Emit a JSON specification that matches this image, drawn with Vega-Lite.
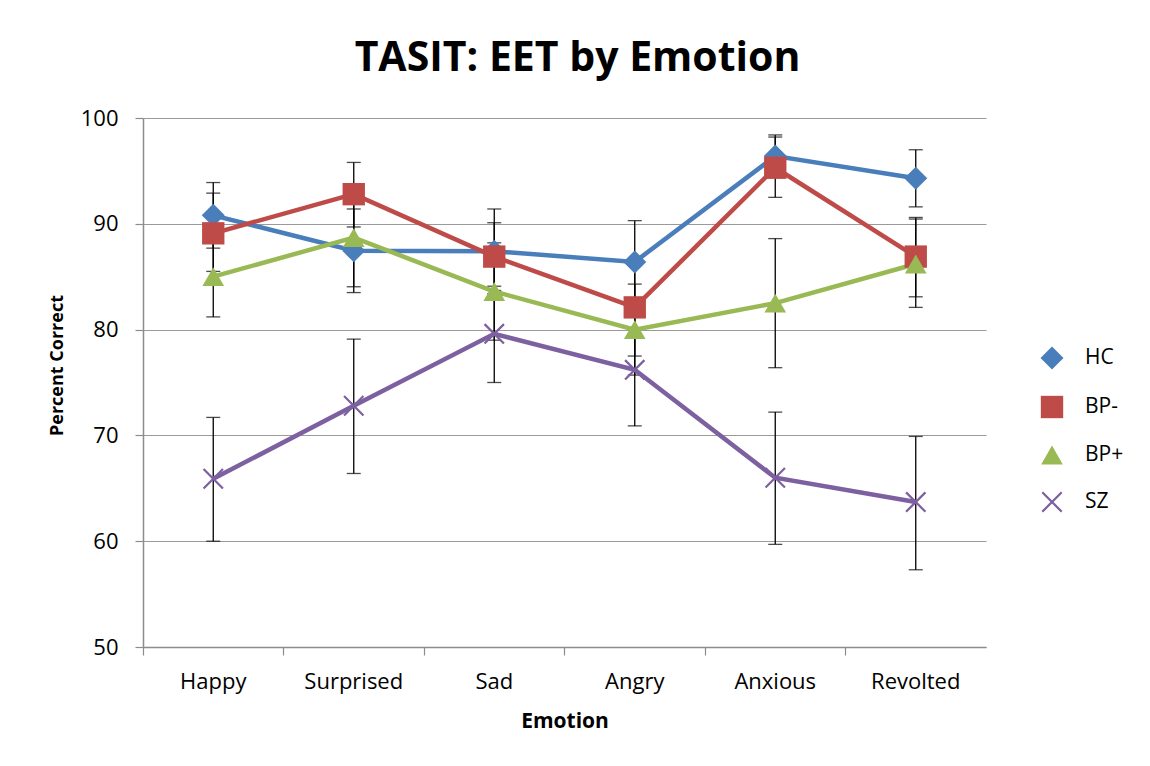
{
  "$schema": "https://vega.github.io/schema/vega-lite/v6.json",
  "width": 843,
  "height": 529,
  "autosize": {"type": "none"},
  "padding": {"left": 143, "top": 118, "right": 164, "bottom": 119},
  "background": "white",
  "title": {
    "text": "TASIT: EET by Emotion",
    "font": "Open Sans",
    "fontSize": 41,
    "fontWeight": "bold",
    "color": "black",
    "anchor": "middle",
    "frame": "group",
    "baseline": "alphabetic",
    "offset": -5,
    "dx": 13
  },
  "config": {
    "view": {"stroke": null},
    "font": "Open Sans",
    "axis": {
      "labelFont": "Open Sans",
      "titleFont": "Open Sans",
      "labelColor": "black",
      "titleColor": "black",
      "domainColor": "#8c8c8c",
      "tickColor": "#8c8c8c",
      "gridColor": "#9a9a9a",
      "domainWidth": 1.5,
      "tickWidth": 1.2,
      "gridWidth": 1.2
    }
  },
  "data": {
    "values": [
      {"emotion": "Happy", "group": "HC", "value": 90.8, "lo": 87.7, "hi": 93.9},
      {"emotion": "Surprised", "group": "HC", "value": 87.45, "lo": 83.5, "hi": 91.4},
      {"emotion": "Sad", "group": "HC", "value": 87.4, "lo": 83.4, "hi": 91.4},
      {"emotion": "Angry", "group": "HC", "value": 86.4, "lo": 82.5, "hi": 90.3},
      {"emotion": "Anxious", "group": "HC", "value": 96.4, "lo": 94.4, "hi": 98.4},
      {"emotion": "Revolted", "group": "HC", "value": 94.3, "lo": 91.6, "hi": 97.0},
      {"emotion": "Happy", "group": "BP-", "value": 89.1, "lo": 85.5, "hi": 92.9},
      {"emotion": "Surprised", "group": "BP-", "value": 92.8, "lo": 89.7, "hi": 95.8},
      {"emotion": "Sad", "group": "BP-", "value": 86.9, "lo": 83.7, "hi": 90.1},
      {"emotion": "Angry", "group": "BP-", "value": 82.1, "lo": 77.5, "hi": 86.7},
      {"emotion": "Anxious", "group": "BP-", "value": 95.3, "lo": 92.5, "hi": 98.2},
      {"emotion": "Revolted", "group": "BP-", "value": 86.9, "lo": 83.1, "hi": 90.6},
      {"emotion": "Happy", "group": "BP+", "value": 85.0, "lo": 81.2, "hi": 88.8},
      {"emotion": "Surprised", "group": "BP+", "value": 88.7, "lo": 84.05, "hi": 93.35},
      {"emotion": "Sad", "group": "BP+", "value": 83.6, "lo": 79.0, "hi": 88.2},
      {"emotion": "Angry", "group": "BP+", "value": 80.0, "lo": 75.7, "hi": 84.3},
      {"emotion": "Anxious", "group": "BP+", "value": 82.5, "lo": 76.4, "hi": 88.6},
      {"emotion": "Revolted", "group": "BP+", "value": 86.2, "lo": 82.1, "hi": 90.45},
      {"emotion": "Happy", "group": "SZ", "value": 65.9, "lo": 60.0, "hi": 71.7},
      {"emotion": "Surprised", "group": "SZ", "value": 72.8, "lo": 66.4, "hi": 79.1},
      {"emotion": "Sad", "group": "SZ", "value": 79.6, "lo": 75.0, "hi": 84.1},
      {"emotion": "Angry", "group": "SZ", "value": 76.2, "lo": 70.9, "hi": 81.5},
      {"emotion": "Anxious", "group": "SZ", "value": 66.0, "lo": 59.7, "hi": 72.2},
      {"emotion": "Revolted", "group": "SZ", "value": 63.7, "lo": 57.3, "hi": 69.9}
    ]
  },
  "encoding": {
    "x": {
      "field": "emotion",
      "type": "nominal",
      "sort": ["Happy", "Surprised", "Sad", "Angry", "Anxious", "Revolted"],
      "scale": {"paddingInner": 0, "paddingOuter": 0},
      "axis": {
        "title": "Emotion",
        "labelAngle": 0,
        "labelFontSize": 22,
        "titleFontSize": 21,
        "titleFontWeight": "bold",
        "tickSize": 8,
        "bandPosition": 0,
        "labelPadding": 16,
        "titlePadding": 18,
        "grid": false
      }
    },
    "color": {
      "field": "group",
      "type": "nominal",
      "scale": {"domain": ["HC", "BP-", "BP+", "SZ"], "range": ["#4a7ebb", "#be4b48", "#98b954", "#7d60a0"]},
      "legend": {
        "title": null,
        "orient": "none",
        "legendX": 897,
        "legendY": 228,
        "padding": 0,
        "symbolStrokeWidth": 0,
        "symbolOpacity": 1,
        "labelFont": "Open Sans",
        "labelFontSize": 21,
        "labelColor": "black",
        "labelOffset": 21,
        "rowPadding": 25.5
      }
    }
  },
  "layer": [
    {
      "mark": {"type": "rule", "color": "black", "strokeWidth": 1.3},
      "encoding": {
        "y": {"field": "lo", "type": "quantitative"},
        "y2": {"field": "hi"},
        "color": {"value": "black"}
      }
    },
    {
      "mark": {"type": "tick", "color": "black", "size": 14, "thickness": 1.3, "orient": "horizontal"},
      "encoding": {"y": {"field": "lo", "type": "quantitative"}, "color": {"value": "black"}}
    },
    {
      "mark": {"type": "tick", "color": "black", "size": 14, "thickness": 1.3, "orient": "horizontal"},
      "encoding": {"y": {"field": "hi", "type": "quantitative"}, "color": {"value": "black"}}
    },
    {
      "mark": {"type": "line", "strokeWidth": 4.5},
      "encoding": {
        "y": {"field": "value", "type": "quantitative"}
      }
    },
    {
      "mark": {"type": "point", "filled": true, "opacity": 1, "strokeWidth": 0},
      "encoding": {
        "y": {
          "field": "value",
          "type": "quantitative",
          "scale": {"domain": [50, 100], "nice": false, "zero": false},
          "axis": {
            "title": "Percent Correct",
            "values": [50, 60, 70, 80, 90, 100],
            "labelFontSize": 22,
            "titleFontSize": 18,
            "titleFontWeight": "bold",
            "tickSize": 8,
            "labelPadding": 17,
            "titleX": -77,
            "titleY": 247
          }
        },
        "shape": {
          "field": "group",
          "type": "nominal",
          "scale": {"domain": ["HC", "BP-", "BP+", "SZ"], "range": ["diamond", "square", "triangle-up", "M-0.85,-1L1,0.85L0.85,1L-1,-0.85Z M0.85,-1L1,-0.85L-0.85,1L-1,0.85Z"]},
          "legend": null
        },
        "size": {
          "field": "group",
          "type": "nominal",
          "scale": {"domain": ["HC", "BP-", "BP+", "SZ"], "range": [530, 440, 520, 420]},
          "legend": null
        }
      }
    }
  ]
}
